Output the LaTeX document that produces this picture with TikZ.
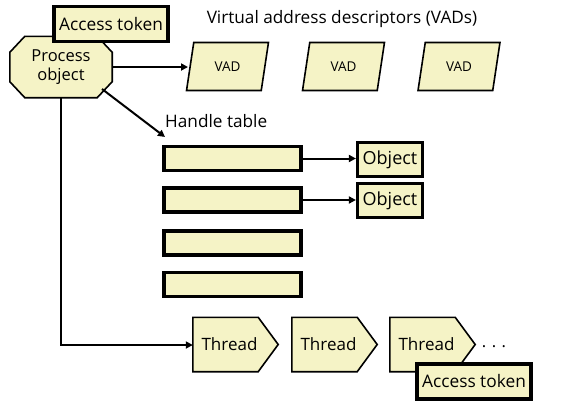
\documentclass[tikz,border=0pt]{standalone}
\usepackage{fontspec}
\setmainfont{Open Sans}
\usetikzlibrary{shapes.geometric,arrows.meta,backgrounds,calc}
\definecolor{paleyel}{RGB}{245,243,198}
\tikzset{
  every node/.style={font=\fontsize{16.5}{19}\selectfont},
  thinbox/.style={draw=black,fill=paleyel,line width=1.6pt},
  thickbox/.style={draw=black,fill=paleyel,line width=3.2pt,inner sep=0pt},
  vadbox/.style={thinbox,trapezium,trapezium left angle=74,trapezium right angle=106,trapezium stretches=true,minimum width=82pt,minimum height=48pt,inner sep=0pt,font=\fontsize{13.5}{15}\selectfont},
  rowbox/.style={thickbox,minimum width=137pt,minimum height=24pt},
  objbox/.style={thickbox,minimum width=65pt,minimum height=34pt,font=\fontsize{18}{20}\selectfont},
  tokbox/.style={thickbox,minimum width=114pt,minimum height=35pt,font=\fontsize{17.3}{20}\selectfont},
  threadtxt/.style={inner sep=0pt,minimum width=65pt,minimum height=54pt,font=\fontsize{17}{20}\selectfont},
  conn/.style={line width=2pt,-{Triangle[length=7pt,width=7pt]}},
  lbl/.style={font=\fontsize{17.2}{20}\selectfont}
}
\newcommand{\threadoutline}[1]{%
  \draw[thinbox] (#1.north west) -- (#1.north east) -- ($(#1.east)+(20,0)$) -- (#1.south east) -- (#1.south west) -- cycle;}
\begin{document}
\begin{tikzpicture}[x=1pt,y=-1pt]
\useasboundingbox (0,0) rectangle (568,410);
% process object
\node[inner sep=0pt,minimum width=102pt,minimum height=61pt,align=center] (proc) at (61,67) {Process\\object};
\begin{pgfonlayer}{background}
\draw[thinbox] ($(proc.north west)+(15,0)$) -- ($(proc.north east)+(-15,0)$) -- ($(proc.north east)+(0,16)$) -- ($(proc.south east)+(0,-16)$) -- ($(proc.south east)+(-15,0)$) -- ($(proc.south west)+(15,0)$) -- ($(proc.south west)+(0,-16)$) -- ($(proc.north west)+(0,16)$) -- cycle;
\end{pgfonlayer}
\node[tokbox] (tok1) at (111,24) {Access token};
% VADs
\node[lbl] (vadtitle) at (342,19) {Virtual address descriptors (VADs)};
\node[vadbox] (vad1) at (227.5,66.5) {VAD};
\node[vadbox] (vad2) at (343.5,66.5) {VAD};
\node[vadbox] (vad3) at (459,66.5) {VAD};
% handle table
\node[lbl,anchor=west,inner sep=0pt] (htlabel) at (165,121) {Handle table};
\node[rowbox] (r1) at (232.5,158.5) {};
\node[rowbox] (r2) at (232.5,200) {};
\node[rowbox] (r3) at (232.5,243) {};
\node[rowbox] (r4) at (232.5,284.5) {};
\node[objbox] (o1) at (390,159.5) {Object};
\node[objbox] (o2) at (390,200.5) {Object};
% threads
\node[threadtxt] (t1) at (225.5,344.5) {\hspace*{8pt}Thread};
\node[threadtxt] (t2) at (324.5,344.5) {\hspace*{8pt}Thread};
\node[threadtxt] (t3) at (422.5,344.5) {\hspace*{8pt}Thread};
\begin{pgfonlayer}{background}
\threadoutline{t1}
\threadoutline{t2}
\threadoutline{t3}
\end{pgfonlayer}
\node[inner sep=0pt] (dots) at (494,347) {.\,\,.\,\,.};
\node[tokbox] (tok2) at (474,381.5) {Access token};
% connectors
\coordinate (vadin) at (188,67);
\draw[conn] (proc.east) -- (vadin);
\coordinate (pcorner) at (102,89);
\coordinate (htin) at (165,137);
\draw[conn] (pcorner) -- (htin);
\draw[conn] (r1.east) -- (o1.west |- r1.east);
\draw[conn] (r2.east) -- (o2.west |- r2.east);
\coordinate (bend) at (61,345);
\draw[conn] (proc.south) -- (bend) -- (t1.west |- bend);
\end{tikzpicture}
\end{document}
